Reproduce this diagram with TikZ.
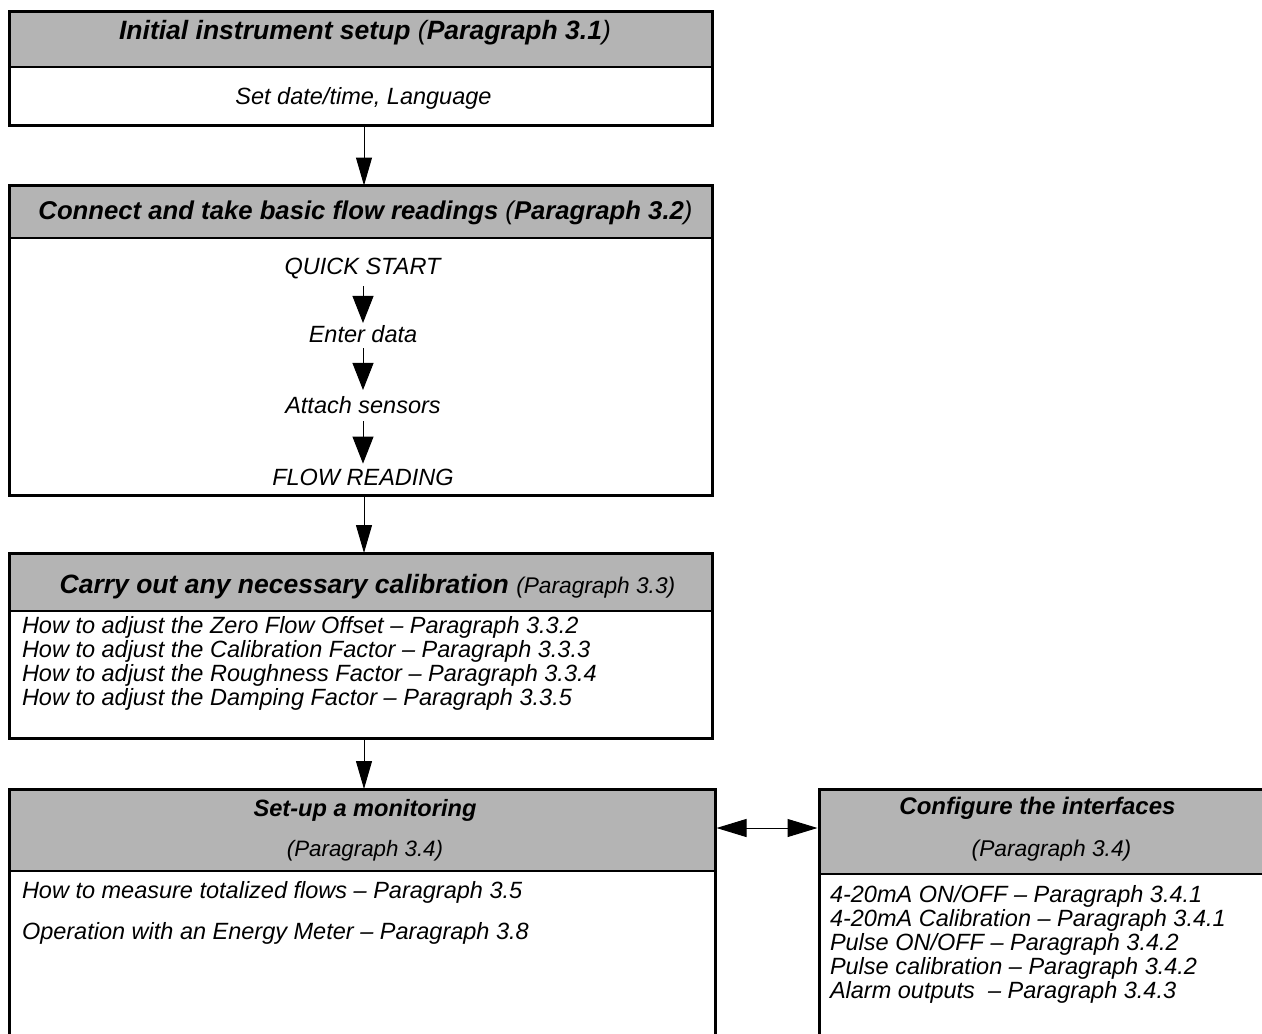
\documentclass[tikz,border=0pt]{standalone}
\usepackage{fontspec}
\setmainfont{Liberation Sans}
\usetikzlibrary{arrows.meta}
\definecolor{hdrgray}{RGB}{180,180,180}
\newcommand{\fs}[1]{\fontsize{#1}{#1}\selectfont}
\begin{document}
\begin{tikzpicture}[x=1pt,y=-1pt,
  box/.style={draw=black,line width=3pt,rectangle,inner sep=0pt,outer sep=0pt},
  sep/.style={line width=1.5pt},
  txt/.style={inner sep=0pt,outer sep=0pt,font=\fs{23.5}\itshape},
  htxt/.style={inner sep=0pt,outer sep=0pt,font=\fs{26.5}\itshape},
  conn/.style={line width=1pt,-{Triangle[length=28pt,width=16pt]}},
  iconn/.style={line width=1pt,-{Triangle[length=27pt,width=21pt]}},
  dconn/.style={line width=1pt,{Triangle[length=30pt,width=18pt]}-{Triangle[length=30pt,width=18pt]}}
]
\useasboundingbox (0,0) rectangle (1262,1034);
% header fills
\fill[hdrgray] (9.5,11.5) rectangle (712,67);
\fill[hdrgray] (9.5,185.5) rectangle (712,238);
\fill[hdrgray] (9.5,553) rectangle (712,611);
\fill[hdrgray] (9.5,789) rectangle (715,871);
\fill[hdrgray] (819,789) rectangle (1290,874);
% separators
\draw[sep] (9.5,67) -- (712,67);
\draw[sep] (9.5,238) -- (712,238);
\draw[sep] (9.5,611) -- (712,611);
\draw[sep] (9.5,871) -- (715,871);
\draw[sep] (819,874) -- (1290,874);
% boxes
\node[box,minimum width=702.5pt,minimum height=114pt] (b1) at (360.75,68.5) {};
\node[box,minimum width=702.5pt,minimum height=310pt] (b2) at (360.75,340.5) {};
\node[box,minimum width=702.5pt,minimum height=185.5pt] (b3) at (360.75,645.75) {};
\node[box,minimum width=705.5pt,minimum height=280pt] (b4) at (362.25,929) {};
\node[box,minimum width=471pt,minimum height=280pt] (b5) at (1054.5,929) {};
% box 1
\node[htxt,anchor=base] (h1) at (365,39.5) {\textbf{Initial instrument setup} (\textbf{Paragraph 3.1})};
\node[txt,anchor=base] (t1) at (363.5,104) {Set date/time, Language};
% box 2
\node[htxt,font=\fs{25.7}\itshape,anchor=base] (h2) at (365.5,219) {\textbf{Connect and take basic flow readings} (\textbf{Paragraph 3.2})};
\node[txt,anchor=base] (q1) at (362.5,274) {QUICK START};
\node[txt,anchor=base] (q2) at (363,342) {Enter data};
\node[txt,anchor=base] (q3) at (363,413) {Attach sensors};
\node[txt,anchor=base] (q4) at (363,485) {FLOW READING};
% box 3
\node[htxt,anchor=base] (h3) at (367.5,593) {\textbf{Carry out any necessary calibration} {\fs{22.7}(Paragraph 3.3)}};
\node[txt,anchor=base west] (c1) at (22,633) {How to adjust the Zero Flow Offset -- Paragraph 3.3.2};
\node[txt,anchor=base west] (c2) at (22,657) {How to adjust the Calibration Factor -- Paragraph 3.3.3};
\node[txt,anchor=base west] (c3) at (22,681) {How to adjust the Roughness Factor -- Paragraph 3.3.4};
\node[txt,anchor=base west] (c4) at (22,705) {How to adjust the Damping Factor -- Paragraph 3.3.5};
% box 4
\node[htxt,font=\fs{23.6}\itshape\bfseries,anchor=base] (h4) at (365,816) {Set-up a monitoring};
\node[txt,font=\fs{22.3}\itshape,anchor=base] (p4) at (365,856) {(Paragraph 3.4)};
\node[txt,anchor=base west] (m1) at (22,898) {How to measure totalized flows -- Paragraph 3.5};
\node[txt,anchor=base west] (m2) at (22,939) {Operation with an Energy Meter -- Paragraph 3.8};
% box 5
\node[htxt,font=\fs{24}\itshape\bfseries,anchor=base] (h5) at (1037.5,814) {Configure the interfaces};
\node[txt,font=\fs{22.8}\itshape,anchor=base] (p5) at (1051.5,856) {(Paragraph 3.4)};
\node[txt,anchor=base west] (i1) at (830,902) {4-20mA ON/OFF -- Paragraph 3.4.1};
\node[txt,anchor=base west] (i2) at (830,926) {4-20mA Calibration -- Paragraph 3.4.1};
\node[txt,anchor=base west] (i3) at (830,950) {Pulse ON/OFF -- Paragraph 3.4.2};
\node[txt,anchor=base west] (i4) at (830,974) {Pulse calibration -- Paragraph 3.4.2};
\node[txt,anchor=base west] (i5) at (830,998) {Alarm outputs \ -- Paragraph 3.4.3};
% connectors between boxes
\coordinate (ax) at (364,0);
\draw[conn] (b1.south -| ax) -- (b2.north -| ax);
\draw[conn] (b2.south -| ax) -- (b3.north -| ax);
\draw[conn] (b3.south -| ax) -- (b4.north -| ax);
% internal arrows
\coordinate (ix) at (363,0);
\draw[iconn,shorten <=8pt,shorten >=2pt] (q1.south -| ix) -- (q2.north -| ix);
\draw[iconn,shorten <=6pt,shorten >=6pt] (q2.south -| ix) -- (q3.north -| ix);
\draw[iconn,shorten <=8pt,shorten >=5pt] (q3.south -| ix) -- (q4.north -| ix);
% double arrow
\coordinate (dy) at (0,828);
\draw[dconn,shorten <=1.5pt,shorten >=1.5pt] (b4.east |- dy) -- (b5.west |- dy);
\end{tikzpicture}
\end{document}
